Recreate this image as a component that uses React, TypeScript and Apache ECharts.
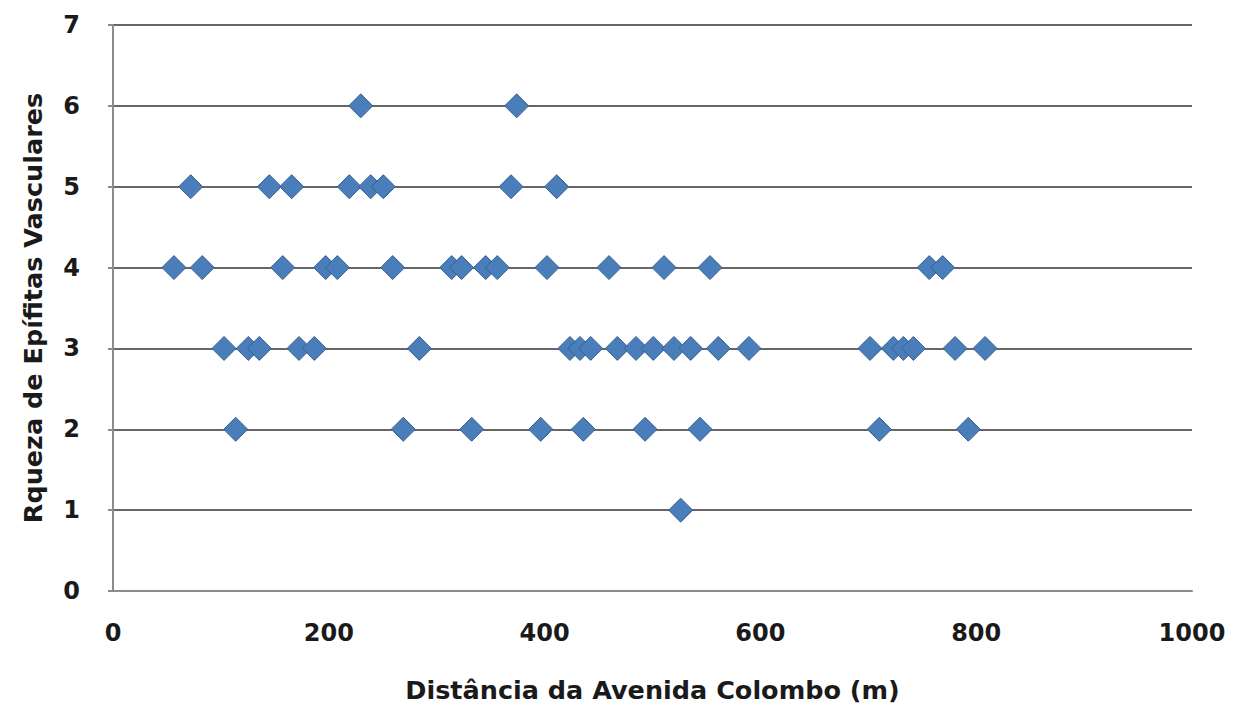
import React, { useEffect, useRef } from "react";
import * as echarts from "echarts";

const xTicks = [0, 200, 400, 600, 800, 1000];
const yTicks = [0, 1, 2, 3, 4, 5, 6, 7];

const x6 = [229.6, 374.1];
const x5 = [72.0, 144.9, 165.6, 219.0, 238.8, 250.5, 368.9, 411.2];
const x4 = [56.5, 82.7, 157.3, 197.1, 207.9, 259.2, 313.9, 323.1, 345.4, 356.1, 402.2, 459.7, 510.7, 553.3, 756.5, 768.9];
const x3 = [102.9, 125.4, 135.6, 172.4, 186.6, 283.9, 423.5, 432.8, 442.7, 467.4, 484.7, 500.7, 519.9, 535.4, 561.0, 589.4, 701.6, 723.2, 732.5, 741.8, 780.4, 808.2];
const x2 = [113.7, 269.0, 332.4, 396.4, 435.9, 493.1, 544.0, 710.2, 792.7];
const x1 = [526.1];

const rows: [number, number[]][] = [
  [6, x6],
  [5, x5],
  [4, x4],
  [3, x3],
  [2, x2],
  [1, x1],
];

const xName = "Distância da Avenida Colombo (m)";
const yName = "Rqueza de Epífitas Vasculares";

export default function App() {
  const ref = useRef<HTMLDivElement>(null);
  useEffect(() => {
    if (!ref.current) return;
    const chart = echarts.init(ref.current, null, { renderer: "svg" });
    const data: number[][] = [];
    rows.forEach(([y, xs]) => xs.forEach((x) => data.push([x, y])));
    const font = "'DejaVu Sans', sans-serif";
    const textColor = "#1a1a1a";
    chart.setOption({
      animation: false,
      backgroundColor: "#ffffff",
      grid: { left: 113, right: 41, top: 25, bottom: 120 },
      xAxis: {
        type: "value",
        min: xTicks[0],
        max: xTicks[xTicks.length - 1],
        interval: 200,
        name: xName,
        nameLocation: "middle",
        nameGap: 86,
        nameTextStyle: { fontFamily: font, fontSize: 25.5, fontWeight: "bold", color: textColor },
        axisLine: { show: true, lineStyle: { color: "#8c8c8c", width: 2 } },
        axisTick: { show: false },
        splitLine: { show: false },
        axisLabel: {
          margin: 30,
          fontFamily: font,
          fontSize: 24,
          fontWeight: "bold",
          color: textColor,
          formatter: (v: number) => String(v),
        },
      },
      yAxis: {
        type: "value",
        min: yTicks[0],
        max: yTicks[yTicks.length - 1],
        interval: 1,
        name: yName,
        nameLocation: "middle",
        nameGap: 67,
        nameTextStyle: { fontFamily: font, fontSize: 25.5, fontWeight: "bold", color: textColor },
        axisLine: { show: true, lineStyle: { color: "#8c8c8c", width: 2 } },
        axisTick: { show: true, length: 5, lineStyle: { color: "#8c8c8c", width: 2 } },
        splitLine: { show: true, lineStyle: { color: "#666666", width: 2 } },
        axisLabel: { margin: 33, fontFamily: font, fontSize: 24, fontWeight: "bold", color: textColor },
      },
      series: [
        {
          type: "scatter",
          symbol: "diamond",
          symbolSize: 24,
          data,
          itemStyle: { color: "#4a7ebb", borderColor: "#3a5f8e", borderWidth: 1, opacity: 1 },
        },
      ],
    });
    return () => chart.dispose();
  }, []);
  return (
    <div
      ref={ref}
      style={{ position: "fixed", left: 0, top: 0, width: 1233, height: 711, background: "#fff" }}
    />
  );
}
